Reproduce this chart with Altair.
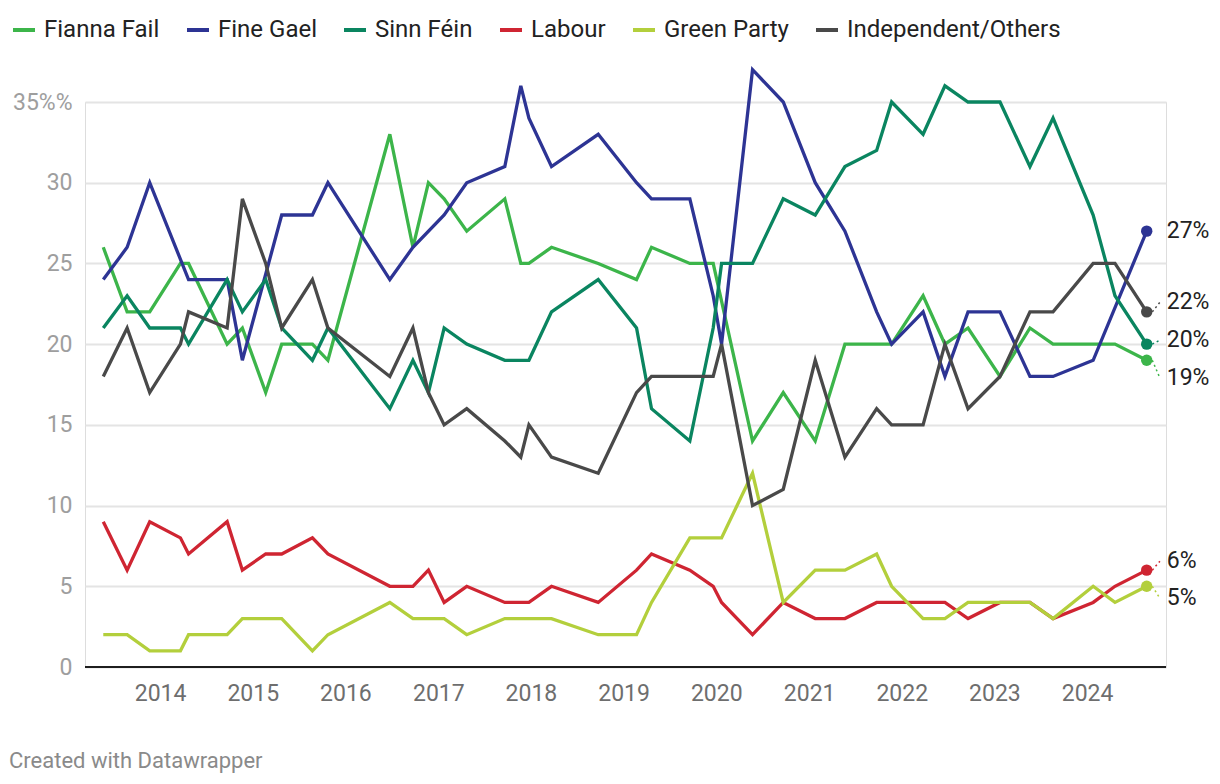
import altair as alt
import pandas as pd

# ---- data ----
dates = [
    "2013-05-22", "2013-08-24", "2013-11-21", "2014-03-22", "2014-04-23", "2014-09-22",
    "2014-11-21", "2015-02-21", "2015-04-25", "2015-08-24", "2015-10-24", "2016-06-24",
    "2016-09-23", "2016-11-23", "2017-01-24", "2017-04-23", "2017-09-20", "2017-11-22",
    "2017-12-24", "2018-03-23", "2018-09-23", "2019-02-21", "2019-04-21", "2019-09-19",
    "2019-12-20", "2020-01-22", "2020-05-23", "2020-09-21", "2021-01-25", "2021-05-22",
    "2021-09-24", "2021-11-22", "2022-03-26", "2022-06-20", "2022-09-19", "2023-01-23",
    "2023-05-21", "2023-08-20", "2024-01-25", "2024-04-20", "2024-08-23",
]

parties = ["Fianna Fail", "Fine Gael", "Sinn Féin", "Labour", "Green Party", "Independent/Others"]
colors = ["#3cb54a", "#2d3494", "#0a8560", "#cf2532", "#b3cf3c", "#494949"]

fianna_fail = [26, 22, 22, 25, 25, 20, 21, 17, 20, 20, 19, 33, 26, 30, 29, 27, 29, 25, 25, 26, 25,
               24, 26, 25, 25, None, 14, 17, 14, 20, 20, 20, 23, 20, 21, 18, 21, 20, 20, 20, 19]
fine_gael = [24, 26, 30, None, 24, 24, 19, None, 28, 28, 30, 24, 26, None, 28, 30, 31, 36, 34, 31, 33,
             30, 29, 29, 23, 20, 37, 35, 30, 27, 22, 20, 22, 18, 22, 22, 18, 18, 19, None, 27]
sinn_fein = [21, 23, 21, 21, 20, 24, 22, 24, 21, 19, 21, 16, 19, 17, 21, 20, 19, 19, 19, 22, 24,
             21, 16, 14, 21, 25, 25, 29, 28, 31, 32, 35, 33, 36, 35, 35, 31, 34, 28, 23, 20]
labour = [9, 6, 9, 8, 7, 9, 6, 7, 7, 8, 7, 5, 5, 6, 4, 5, 4, None, 4, 5, 4,
          6, 7, 6, 5, 4, 2, 4, 3, 3, 4, 4, 4, 4, 3, 4, 4, 3, 4, 5, 6]
green_party = [2, 2, 1, 1, 2, 2, 3, 3, 3, 1, 2, 4, 3, 3, 3, 2, 3, None, 3, 3, 2,
               2, 4, 8, None, 8, 12, 4, 6, 6, 7, 5, 3, 3, 4, 4, 4, 3, 5, 4, 5]
independents = [18, 21, 17, 20, 22, 21, 29, 25, 21, 24, 21, 18, 21, 17, 15, 16, 14, 13, 15, 13, 12,
                17, 18, 18, 18, 20, 10, 11, 19, 13, 16, 15, 15, 20, 16, 18, 22, 22, 25, 25, 22]

series = [fianna_fail, fine_gael, sinn_fein, labour, green_party, independents]

end_labels = ["19%", "27%", "20%", "6%", "5%", "22%"]
# vertical spot of each end label (spread apart so they do not collide)
label_spot = [17.9, 27.0, 20.25, 6.55, 4.25, 22.6]

# ---- tables ----
rows = []
for party, vals in zip(parties, series):
    for d, v in zip(dates, vals):
        if v is not None:
            rows.append({"date": d, "party": party, "value": v})
df = pd.DataFrame(rows)
df["date"] = pd.to_datetime(df["date"])

last_date = pd.to_datetime(dates[-1])
ends = []
for party, vals, lab, spot in zip(parties, series, end_labels, label_spot):
    ends.append({
        "date": last_date, "party": party, "value": vals[-1], "label": lab, "spot": spot,
        "c0": last_date + pd.Timedelta(days=22), "c1": last_date + pd.Timedelta(days=52),
    })
ends = pd.DataFrame(ends)
conn = ends[(ends["spot"] - ends["value"]).abs() > 0.1]

FONT = "Roboto"

x_scale = alt.Scale(domain=[alt.DateTime(year=2013, month=3, date=11),
                            alt.DateTime(year=2024, month=11, date=7)])
y_scale = alt.Scale(domain=[0, 35], nice=False, zero=True)
color_scale = alt.Scale(domain=parties, range=colors)

x_axis = alt.Axis(
    format="%Y", tickCount={"interval": "year", "step": 1}, title=None,
    grid=False, domain=False, ticks=False, labelPadding=15,
    labelFontSize=23, labelColor="#6e6e6e", labelFont=FONT,
)
y_axis = alt.Axis(
    values=[0, 5, 10, 15, 20, 25, 30, 35], title=None, domain=False, ticks=False,
    grid=True, gridColor="#e4e4e4", gridWidth=2, labelPadding=13,
    labelFontSize=23, labelColor="#9e9e9e", labelFont=FONT, labelBaseline="middle",
    labelExpr="datum.value == 35 ? '35%%' : datum.label",
)

baseline = alt.Chart(pd.DataFrame({"z": [0]})).mark_rule(color="#1e1e1e", strokeWidth=2).encode(
    y=alt.Y("z:Q", scale=y_scale, axis=y_axis)
)

lines = alt.Chart(df).mark_line(strokeWidth=3.3).encode(
    x=alt.X("date:T", scale=x_scale, axis=x_axis),
    y=alt.Y("value:Q", scale=y_scale, axis=y_axis),
    color=alt.Color(
        "party:N", scale=color_scale,
        legend=alt.Legend(
            title=None, orient="none", legendX=-74, legendY=-85, direction="horizontal",
            symbolType="stroke", symbolSize=484, symbolStrokeWidth=4,
            labelFontSize=24, labelFont=FONT, labelColor="#222222", labelOffset=7,
            columnPadding=19, labelLimit=400,
        ),
    ),
)

connectors = alt.Chart(conn).mark_rule(strokeDash=[2, 3], strokeWidth=1.5).encode(
    x=alt.X("c0:T", scale=x_scale), x2="c1:T",
    y=alt.Y("value:Q", scale=y_scale), y2="spot:Q",
    color=alt.Color("party:N", scale=color_scale, legend=None),
)

points = alt.Chart(ends).mark_circle(size=130, opacity=1).encode(
    x=alt.X("date:T", scale=x_scale),
    y=alt.Y("value:Q", scale=y_scale),
    color=alt.Color("party:N", scale=color_scale, legend=None),
)

labels = alt.Chart(ends).mark_text(
    align="left", baseline="middle", dx=20, fontSize=23, font=FONT, color="#222222"
).encode(
    x=alt.X("date:T", scale=x_scale),
    y=alt.Y("spot:Q", scale=y_scale),
    text="label:N",
)

footer = alt.Chart(pd.DataFrame({"t": ["Created with Datawrapper"]})).mark_text(
    align="left", baseline="middle", fontSize=22, font=FONT, color="#8a8a8a"
).encode(x=alt.value(-76), y=alt.value(659), text="t:N")

chart = alt.layer(baseline, lines, connectors, points, labels, footer).properties(
    width=1081, height=565, autosize="none",
    padding={"left": 85, "top": 102, "right": 54, "bottom": 117},
).configure_view(stroke=None).configure(font=FONT)

chart.save("out.html", embed_options={"renderer": "svg", "actions": False})
